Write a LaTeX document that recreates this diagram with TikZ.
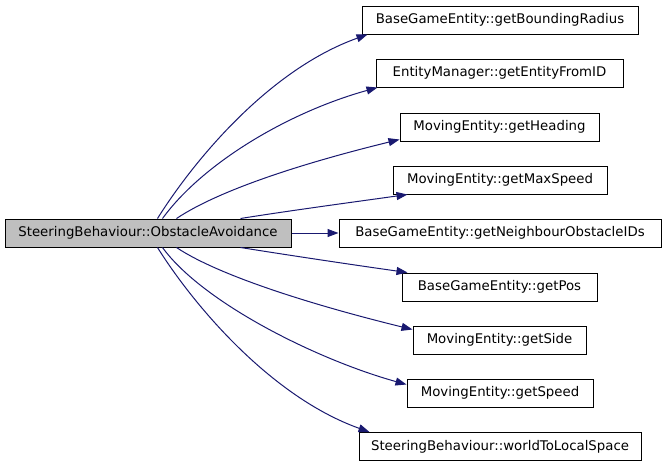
\documentclass[tikz,border=0pt]{standalone}
\usepackage{fontspec}
\setmainfont{DejaVu Sans}
\usetikzlibrary{arrows.meta,calc}
\definecolor{edgecol}{HTML}{191970}
\definecolor{srcfill}{HTML}{BFBFBF}
\begin{document}
\begin{tikzpicture}[x=1pt,y=-1pt,
  fn/.style={draw=black,line width=1pt,fill=white,minimum height=28pt,inner sep=0pt,
    font=\fontsize{13.3}{16}\selectfont,anchor=center},
  src/.style={fn,fill=srcfill},
  call/.style={draw=edgecol,line width=1pt,-{Triangle[length=11pt,width=8pt]},fill=none}]
\useasboundingbox (0,0) rectangle (667,467);
\node[src,minimum width=286pt] (s) at (148,233) {SteeringBehaviour::ObstacleAvoidance};
\node[fn,minimum width=276pt] (t1) at (500,20) {BaseGameEntity::getBoundingRadius};
\node[fn,minimum width=247pt] (t2) at (499.5,73) {EntityManager::getEntityFromID};
\node[fn,minimum width=199pt] (t3) at (499.5,127) {MovingEntity::getHeading};
\node[fn,minimum width=214pt] (t4) at (500,180) {MovingEntity::getMaxSpeed};
\node[fn,minimum width=322pt] (t5) at (500,233) {BaseGameEntity::getNeighbourObstacleIDs};
\node[fn,minimum width=195pt] (t6) at (499.5,287) {BaseGameEntity::getPos};
\node[fn,minimum width=173pt] (t7) at (499.5,340) {MovingEntity::getSide};
\node[fn,minimum width=186pt] (t8) at (500,393) {MovingEntity::getSpeed};
\node[fn,minimum width=282pt] (t9) at (500,446.5) {SteeringBehaviour::worldToLocalSpace};
\draw[call] ($(s.north west)+(153,0)$) .. controls +(37,-59) and +(-98,35) .. ($(t1.south west)+(6,0)$);
\draw[call] ($(s.north west)+(158,0)$) .. controls +(40,-55) and +(-90,25) .. ($(t2.south west)+(2,0)$);
\draw[call] ($(s.north west)+(172,0)$) .. controls +(45,-30) and +(-90,22) .. ($(t3.south west)+(0,-2)$);
\draw[call] ($(s.north west)+(236,0)$) .. controls +(50,-8) and +(-50,7) .. ($(t4.south west)+(15,0)$);
\draw[call] (s.east) -- (t5.west);
\draw[call] ($(s.south west)+(236,0)$) .. controls +(50,8) and +(-50,-7) .. ($(t6.north west)+(6,0)$);
\draw[call] ($(s.south west)+(172,0)$) .. controls +(45,30) and +(-90,-22) .. ($(t7.north west)+(0,4)$);
\draw[call] ($(s.south west)+(158,0)$) .. controls +(40,55) and +(-90,-25) .. ($(t8.north west)+(0,6)$);
\draw[call] ($(s.south west)+(153,0)$) .. controls +(37,59) and +(-98,-35) .. ($(t9.north west)+(11,0)$);
\end{tikzpicture}
\end{document}
